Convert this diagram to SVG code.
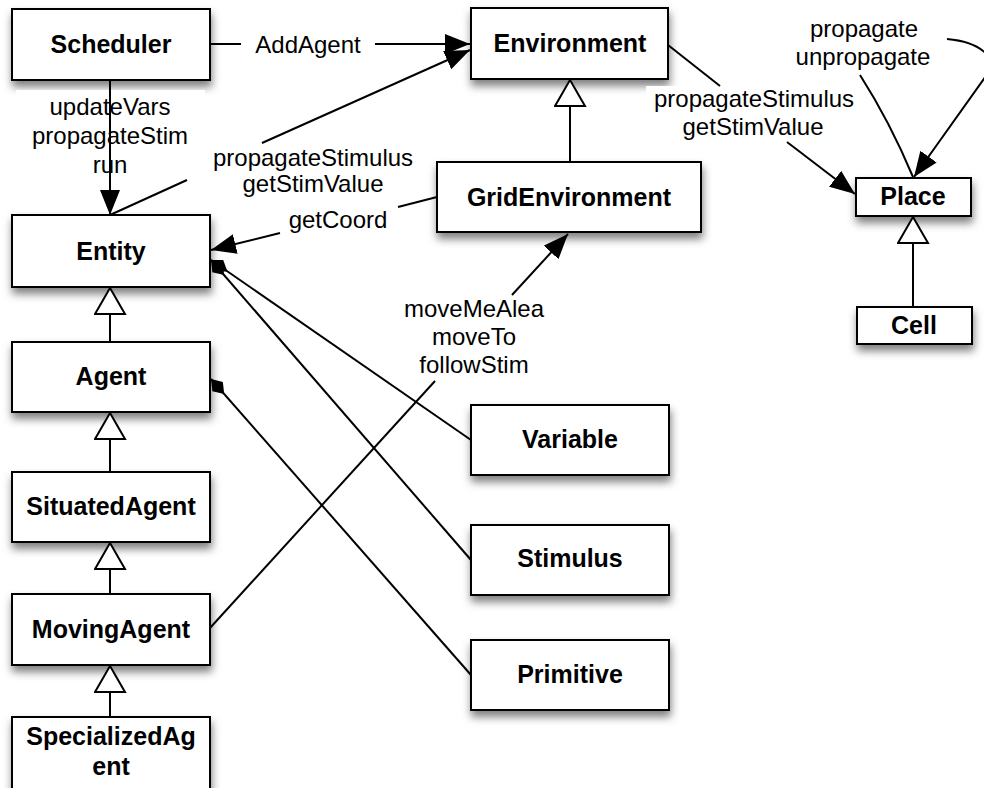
<svg xmlns="http://www.w3.org/2000/svg" width="984" height="788" viewBox="0 0 984 788">
<defs>
<filter id="sh" x="-10%" y="-20%" width="130%" height="170%">
<feDropShadow dx="1" dy="6" stdDeviation="4" flood-color="#000" flood-opacity="0.5"/>
</filter>
<marker id="arrow" markerUnits="userSpaceOnUse" markerWidth="27" markerHeight="21" refX="25" refY="10" orient="auto"><path d="M0,0 L25,10 L0,20 z" fill="#000"/></marker>
<marker id="tri" markerUnits="userSpaceOnUse" markerWidth="32" markerHeight="34" refX="28" refY="16" orient="auto"><path d="M2,1 L28,16 L2,31 z" fill="#fff" stroke="#000" stroke-width="2"/></marker>
<marker id="dia" markerUnits="userSpaceOnUse" markerWidth="24" markerHeight="18" refX="1" refY="9" orient="auto"><path d="M1,9 L11,2 L21,9 L11,16 z" fill="#000"/></marker>
<style>
.box{fill:#fff;stroke:#000;stroke-width:2;filter:url(#sh)}
.nt{font-family:"Liberation Sans",Arial,Helvetica,sans-serif;font-weight:bold;font-size:25px;text-anchor:middle;fill:#000}
.lt{font-family:"Liberation Sans",Arial,Helvetica,sans-serif;font-size:24px;text-anchor:middle;fill:#000}
.ln{fill:none;stroke:#000;stroke-width:2}
.bg{fill:#fff;stroke:none}
</style>
</defs>
<g id="nodes">
<g id="scheduler"><rect class="box" x="12" y="9" width="198" height="71"/><text class="nt" x="111" y="53">Scheduler</text></g>
<g id="entity"><rect class="box" x="12" y="215" width="198" height="72"/><text class="nt" x="111" y="260">Entity</text></g>
<g id="agent"><rect class="box" x="12" y="342" width="198" height="70"/><text class="nt" x="111" y="385">Agent</text></g>
<g id="situatedagent"><rect class="box" x="12" y="472" width="198" height="70"/><text class="nt" x="111" y="515">SituatedAgent</text></g>
<g id="movingagent"><rect class="box" x="12" y="594" width="198" height="71"/><text class="nt" x="111" y="638">MovingAgent</text></g>
<g id="specializedagent"><rect class="box" x="12" y="717" width="198" height="80"/><text class="nt" x="111" y="745">SpecializedAg</text><text class="nt" x="111" y="775">ent</text></g>
<g id="environment"><rect class="box" x="471" y="8" width="197" height="71"/><text class="nt" x="570" y="52">Environment</text></g>
<g id="gridenvironment"><rect class="box" x="437" y="162" width="264" height="70"/><text class="nt" x="569" y="206">GridEnvironment</text></g>
<g id="place"><rect class="box" x="856" y="178" width="115" height="38"/><text class="nt" x="913" y="205">Place</text></g>
<g id="cell"><rect class="box" x="857" y="307" width="115" height="37"/><text class="nt" x="914" y="334">Cell</text></g>
<g id="variable"><rect class="box" x="471" y="405" width="198" height="70"/><text class="nt" x="570" y="448">Variable</text></g>
<g id="stimulus"><rect class="box" x="471" y="525" width="198" height="70"/><text class="nt" x="570" y="567">Stimulus</text></g>
<g id="primitive"><rect class="box" x="471" y="640" width="198" height="70"/><text class="nt" x="570" y="683">Primitive</text></g>
</g>
<g id="connectors">
<rect class="bg" x="16" y="90" width="189" height="88"/>
<rect class="bg" x="646" y="86" width="209" height="56"/>
<path class="ln" d="M110,342 L110,288" marker-end="url(#tri)"/>
<path class="ln" d="M110,472 L110,413" marker-end="url(#tri)"/>
<path class="ln" d="M110,594 L110,543" marker-end="url(#tri)"/>
<path class="ln" d="M110,717 L110,666" marker-end="url(#tri)"/>
<path class="ln" d="M570,162 L570,80" marker-end="url(#tri)"/>
<path class="ln" d="M913,307 L913,217" marker-end="url(#tri)"/>
<path class="ln" d="M210,44 L241,44"/>
<path class="ln" d="M375,44 L470,44" marker-end="url(#arrow)"/>
<text class="lt" x="308" y="53">AddAgent</text>
<path class="ln" d="M110,80 L110,215" marker-end="url(#arrow)"/>
<text class="lt" x="110" y="115">updateVars</text>
<text class="lt" x="110" y="144">propagateStim</text>
<text class="lt" x="110" y="173">run</text>
<path class="ln" d="M110,215 L187,180"/>
<path class="ln" d="M262,143 L470,50" marker-end="url(#arrow)"/>
<text class="lt" x="313" y="166">propagateStimulus</text>
<text class="lt" x="313" y="192">getStimValue</text>
<path class="ln" d="M437,197 L398,207"/>
<path class="ln" d="M280,233 L211,250" marker-end="url(#arrow)"/>
<text class="lt" x="338" y="228">getCoord</text>
<path class="ln" d="M668,45 L720,86"/>
<path class="ln" d="M787,142 L855,194" marker-end="url(#arrow)"/>
<text class="lt" x="754" y="107">propagateStimulus</text>
<text class="lt" x="753" y="135">getStimValue</text>
<path class="ln" d="M913,177 Q 890,122 860,75"/>
<path class="ln" d="M947,39 C980,42 1000,58 986,76 L914,177" marker-end="url(#arrow)"/>
<text class="lt" x="864" y="37">propagate</text>
<text class="lt" x="863" y="65">unpropagate</text>
<path class="ln" d="M210,628 L435,381"/>
<path class="ln" d="M512,295 L568,234" marker-end="url(#arrow)"/>
<text class="lt" x="474" y="317">moveMeAlea</text>
<text class="lt" x="474" y="345">moveTo</text>
<text class="lt" x="474" y="373">followStim</text>
<path class="ln" d="M211,260 L471,440" marker-start="url(#dia)"/>
<path class="ln" d="M211,260 L471,560" marker-start="url(#dia)"/>
<path class="ln" d="M211,379 L471,675" marker-start="url(#dia)"/>
</g>
</svg>
